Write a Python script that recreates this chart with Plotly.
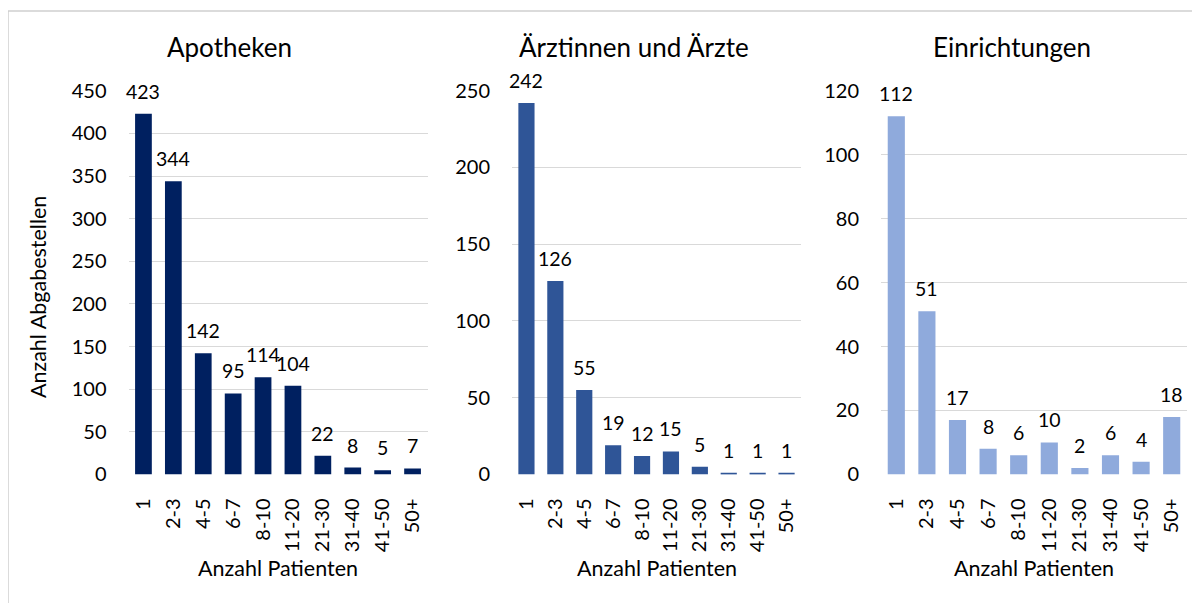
import plotly.graph_objects as go

categories = ["1", "2-3", "4-5", "6-7", "8-10", "11-20", "21-30", "31-40", "41-50", "50+"]
apotheken = [423, 344, 142, 95, 114, 104, 22, 8, 5, 7]
aerzte = [242, 126, 55, 19, 12, 15, 5, 1, 1, 1]
einrichtungen = [112, 51, 17, 8, 6, 10, 2, 6, 4, 18]

titles = ["Apotheken", "Ärztinnen und Ärzte", "Einrichtungen"]
colors = ["#002060", "#2F5597", "#8FAADC"]
yranges = [(0, 450, 50), (0, 250, 50), (0, 120, 20)]
x_title = "Anzahl Patienten"
y_title = "Anzahl Abgabestellen"

W, H = 1200, 603
FONT = "Lato"
plot_px = [(128.5, 427.5), (512, 801), (881, 1187)]
title_cx = [229.5, 634, 1011.5]
top_px, bot_px = 89, 474

# screen-pixel -> paper fraction (page offset 8px, effective paper 19..600)
def px_x(p):
    return (p - 8) / W

def px_y(p):
    return 1 - (p - 19) / 581.0

fig = go.Figure()
series = [apotheken, aerzte, einrichtungen]
for i, vals in enumerate(series):
    n = "" if i == 0 else str(i + 1)
    fig.add_trace(go.Bar(
        x=categories, y=vals, marker=dict(color=colors[i], line=dict(width=0)),
        xaxis="x" + n, yaxis="y" + n, showlegend=False, hoverinfo="x+y",
    ))
    for k, v in enumerate(vals):
        # category axis position given by category index
        fig.add_annotation(x=k, y=v, xref="x" + n, yref="y" + n, text=str(v),
                           showarrow=False, yanchor="bottom", xanchor="center",
                           yshift=9, font=dict(family=FONT, size=19.5, color="#000000"))
    x0, x1 = plot_px[i]
    lo, hi, step = yranges[i]
    fig.layout["xaxis" + n] = dict(
        domain=[px_x(x0), px_x(x1)], anchor="y" + n, tickangle=-90,
        tickfont=dict(family=FONT, size=20, color="#000000"),
        showgrid=False, showline=False, ticks="", ticklabelstandoff=19,
        type="category", categoryorder="array", categoryarray=categories,
        range=[-0.5, len(categories) - 0.5], autorange=False,
    )
    fig.layout["yaxis" + n] = dict(
        domain=[px_y(bot_px), px_y(top_px)], anchor="x" + n,
        range=[lo, hi], dtick=step, tick0=0,
        showgrid=True, gridcolor="#D9D9D9", gridwidth=1.3,
        zeroline=False, showline=False, ticks="",
        tickfont=dict(family=FONT, size=20, color="#000000"),
        ticklabelstandoff=21,
    )
    fig.add_annotation(x=px_x(title_cx[i]), y=px_y(45), xref="paper", yref="paper",
                       text=titles[i], showarrow=False,
                       font=dict(family=FONT, size=26, color="#000000"),
                       xanchor="center", yanchor="middle")
    fig.add_annotation(x=px_x((x0 + x1) / 2), y=px_y(568), xref="paper", yref="paper",
                       text=x_title, showarrow=False,
                       font=dict(family=FONT, size=21.5, color="#000000"),
                       xanchor="center", yanchor="middle")

fig.add_annotation(x=px_x(38), y=px_y(296), xref="paper", yref="paper",
                   text=y_title, showarrow=False, textangle=-90,
                   font=dict(family=FONT, size=21.5, color="#000000"),
                   xanchor="center", yanchor="middle")

fig.add_shape(type="rect", xref="paper", yref="paper",
              x0=px_x(8), x1=px_x(1215), y0=px_y(620), y1=px_y(9),
              line=dict(color="#CFCFCF", width=1.5), fillcolor="rgba(0,0,0,0)")

fig.update_layout(
    width=W, height=H, margin=dict(l=0, r=0, t=0, b=0),
    paper_bgcolor="white", plot_bgcolor="white", bargap=0.44,
    font=dict(family=FONT, color="#000000"),
)

fig.write_html("out.html")
